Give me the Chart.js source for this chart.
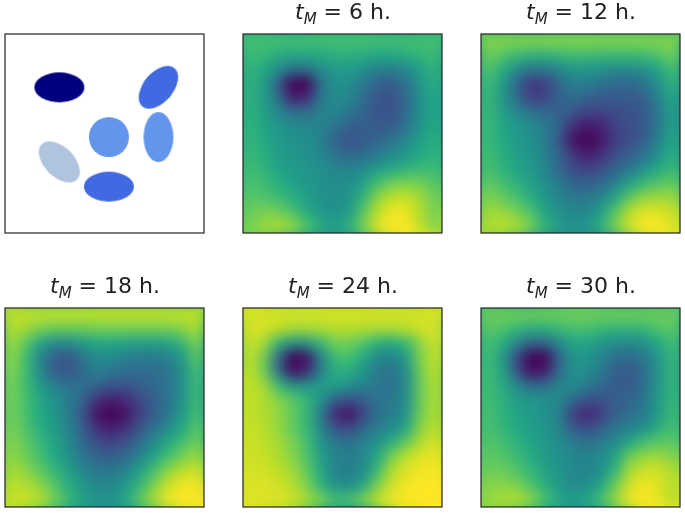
<!DOCTYPE html>
<html>
<head>
<meta charset="utf-8">
<script src="https://cdn.jsdelivr.net/npm/chart.js@4"></script>
<style>
    html, body { margin: 0; background: #fff; }
    #page { position: relative; width: 685px; height: 513px; overflow: hidden; filter: blur(0.4px); }
    canvas { position: absolute; }
    .title { position: absolute; width: 200px; text-align: center; font: 22px "DejaVu Sans"; color: #222; white-space: nowrap; }
    .title sub { font-size: 15px; font-style: italic; line-height: 0; }
</style>
</head>
<body>
<div id="page"></div>
<script>
// left panel: the cell sketch, coordinates in percent of the box
const blobX = [27.3, 77.1, 52.2, 77.1, 27.3, 52.2];
const blobY = [26.8, 26.8, 51.8, 51.8, 64.3, 76.7];
const blobMajor = [25, 25, 20, 25, 25, 25];
const blobMinor = [15, 15, 20, 15, 15, 15];
const blobAngle = [0, -50, 0, 90, 45, 0];
const blobColors = ['#000080', '#4169e1', '#6495ed', '#6495ed', '#b0c4de', '#4169e1'];

const titles = ['6', '12', '18', '24', '30'];

// heatmaps, 0-100 on the colormap, read row by row from the top
const grid6 = [
    [70, 70, 70, 70, 70, 70, 70, 70, 70, 70, 70, 70, 70, 70],
    [68, 66, 62, 59, 59, 61, 63, 63, 62, 60, 60, 62, 65, 68],
    [66, 60, 48, 38, 38, 48, 54, 54, 50, 44, 42, 47, 56, 64],
    [64, 56, 30, 0, 0, 38, 50, 49, 40, 31, 29, 38, 52, 62],
    [64, 56, 36, 8, 12, 40, 48, 45, 36, 26, 25, 34, 50, 60],
    [64, 57, 46, 36, 36, 44, 46, 40, 32, 26, 25, 35, 50, 60],
    [65, 58, 52, 48, 46, 44, 38, 30, 30, 28, 29, 38, 52, 60],
    [66, 60, 54, 51, 49, 44, 32, 25, 28, 33, 38, 46, 56, 62],
    [67, 62, 55, 52, 50, 46, 38, 33, 36, 41, 47, 54, 60, 64],
    [69, 64, 58, 54, 52, 49, 45, 43, 47, 54, 60, 64, 67, 68],
    [71, 68, 62, 57, 53, 50, 48, 49, 56, 70, 77, 80, 78, 73],
    [74, 72, 68, 62, 56, 51, 48, 51, 64, 82, 90, 91, 86, 77],
    [77, 79, 77, 71, 61, 53, 49, 54, 73, 90, 97, 97, 88, 79],
    [79, 85, 88, 84, 72, 61, 56, 63, 80, 95, 100, 100, 90, 81],
];
const grid12 = [
    [82, 82, 82, 82, 82, 82, 82, 82, 82, 82, 82, 82, 82, 82],
    [78, 73, 67, 64, 64, 66, 68, 68, 67, 67, 67, 68, 72, 78],
    [73, 62, 48, 40, 40, 46, 52, 52, 50, 47, 47, 50, 58, 70],
    [69, 55, 34, 16, 17, 33, 42, 42, 38, 34, 34, 38, 50, 64],
    [67, 54, 36, 18, 20, 31, 36, 32, 28, 28, 28, 31, 45, 60],
    [68, 56, 46, 38, 33, 32, 26, 20, 20, 23, 25, 28, 40, 57],
    [68, 60, 53, 48, 42, 32, 14, 6, 10, 20, 24, 27, 40, 58],
    [68, 60, 54, 50, 42, 28, 4, 0, 5, 18, 24, 30, 44, 60],
    [70, 62, 56, 52, 44, 32, 16, 8, 14, 24, 30, 38, 50, 62],
    [71, 64, 58, 53, 46, 34, 23, 19, 24, 32, 40, 50, 60, 67],
    [76, 70, 64, 57, 50, 40, 32, 30, 34, 44, 56, 66, 72, 76],
    [81, 76, 70, 62, 52, 45, 40, 40, 45, 58, 74, 83, 85, 85],
    [86, 84, 79, 71, 58, 49, 45, 46, 55, 73, 89, 95, 95, 91],
    [88, 90, 88, 80, 65, 55, 51, 53, 63, 81, 93, 100, 100, 95],
];
const grid18 = [
    [91, 91, 91, 91, 91, 91, 91, 91, 91, 91, 91, 91, 91, 91],
    [89, 85, 79, 76, 76, 76, 78, 78, 78, 78, 78, 78, 82, 87],
    [85, 74, 57, 47, 47, 53, 59, 59, 57, 55, 55, 57, 65, 80],
    [84, 68, 45, 30, 26, 39, 47, 47, 43, 41, 41, 43, 53, 74],
    [82, 68, 47, 28, 27, 35, 43, 39, 35, 35, 35, 39, 49, 70],
    [80, 68, 54, 44, 38, 36, 32, 26, 26, 30, 34, 38, 50, 68],
    [79, 70, 59, 50, 42, 32, 14, 8, 12, 22, 30, 38, 50, 68],
    [79, 70, 60, 52, 42, 27, 4, 0, 5, 18, 30, 40, 53, 70],
    [80, 72, 62, 54, 44, 30, 14, 8, 14, 27, 38, 48, 60, 74],
    [82, 75, 66, 58, 48, 34, 24, 20, 26, 36, 48, 60, 70, 78],
    [84, 77, 70, 60, 50, 40, 32, 30, 34, 46, 58, 70, 79, 85],
    [87, 83, 75, 66, 56, 46, 40, 40, 46, 56, 70, 83, 90, 93],
    [90, 88, 83, 73, 62, 52, 46, 46, 52, 66, 80, 92, 98, 98],
    [92, 92, 89, 79, 67, 57, 52, 52, 60, 74, 87, 98, 100, 100],
];
const grid24 = [
    [94, 94, 94, 94, 94, 94, 94, 94, 94, 94, 94, 94, 94, 94],
    [94, 93, 90, 86, 86, 87, 89, 89, 88, 87, 87, 89, 92, 94],
    [93, 86, 64, 50, 52, 66, 78, 78, 72, 62, 60, 66, 82, 93],
    [91, 78, 34, 0, 4, 44, 68, 70, 60, 46, 44, 54, 80, 91],
    [91, 78, 38, 4, 12, 44, 62, 62, 52, 40, 38, 48, 78, 90],
    [91, 86, 68, 54, 52, 56, 56, 50, 44, 40, 38, 46, 76, 88],
    [91, 88, 82, 74, 66, 50, 30, 24, 30, 38, 40, 48, 76, 88],
    [91, 88, 84, 76, 66, 42, 10, 4, 20, 38, 42, 50, 78, 88],
    [92, 89, 84, 76, 66, 46, 26, 22, 34, 42, 48, 58, 82, 90],
    [93, 90, 86, 80, 70, 52, 40, 38, 44, 52, 62, 76, 88, 94],
    [93, 91, 88, 82, 72, 56, 44, 42, 46, 60, 80, 90, 95, 97],
    [94, 93, 90, 86, 76, 60, 44, 42, 48, 68, 88, 95, 98, 99],
    [95, 95, 93, 89, 80, 64, 50, 48, 58, 80, 93, 98, 100, 100],
    [95, 95, 95, 93, 87, 79, 70, 70, 80, 91, 98, 100, 100, 100],
];
const grid30 = [
    [77, 78, 78, 78, 78, 78, 78, 78, 78, 78, 78, 78, 78, 77],
    [75, 71, 66, 62, 62, 66, 70, 70, 66, 64, 64, 66, 71, 75],
    [71, 62, 46, 32, 32, 46, 58, 58, 52, 48, 46, 50, 60, 69],
    [69, 56, 24, 0, 0, 32, 52, 52, 44, 36, 34, 40, 52, 66],
    [69, 58, 28, 4, 8, 34, 50, 48, 40, 30, 28, 36, 52, 66],
    [69, 62, 48, 36, 36, 46, 48, 42, 34, 28, 28, 36, 52, 66],
    [69, 64, 56, 52, 50, 46, 34, 24, 24, 30, 32, 40, 54, 66],
    [71, 64, 58, 54, 50, 44, 18, 10, 18, 32, 36, 42, 54, 68],
    [71, 66, 60, 56, 52, 46, 28, 24, 30, 40, 44, 50, 62, 71],
    [73, 70, 64, 58, 54, 48, 42, 38, 42, 48, 60, 70, 74, 75],
    [75, 73, 68, 62, 54, 50, 46, 44, 48, 58, 78, 84, 86, 81],
    [78, 77, 73, 66, 58, 52, 46, 44, 50, 66, 87, 93, 93, 88],
    [82, 82, 80, 72, 63, 53, 47, 49, 59, 78, 93, 98, 95, 88],
    [84, 87, 89, 83, 70, 60, 56, 60, 70, 85, 97, 100, 97, 89],
];
const grids = [grid6, grid12, grid18, grid24, grid30];

const viridisStops = ['#440154', '#482475', '#414487', '#355f8d', '#2a788e', '#21918c', '#22a884', '#44bf70', '#7ad151', '#bddf26', '#fde725'];

const panelPos = [[3, 32], [241, 32], [479, 32], [3, 306], [241, 306], [479, 306]];
const PANEL = 203;
const BLUR = 6.5;

const page = document.getElementById('page');

const hexToRgb = (hex) => [1, 3, 5].map(i => parseInt(hex.slice(i, i + 2), 16));

const viridis = (v) => {
    const p = v / 100 * (viridisStops.length - 1);
    const i = Math.min(Math.floor(p), viridisStops.length - 2);
    const a = hexToRgb(viridisStops[i]);
    const b = hexToRgb(viridisStops[i + 1]);
    const c = a.map((val, k) => Math.round(val + (b[k] - val) * (p - i)));
    return `rgb(${c[0]},${c[1]},${c[2]})`;
};

// black box round the plot area
const framePlugin = {
    id: 'frame',
    afterDraw(chart) {
        const { ctx, chartArea: a } = chart;
        ctx.save();
        ctx.strokeStyle = '#222';
        ctx.lineWidth = 1.2;
        ctx.strokeRect(a.left, a.top, a.right - a.left, a.bottom - a.top);
        ctx.restore();
    }
};

// smooths the square cells, edges are stretched first so the blur does not fade out there
const smoothPlugin = {
    id: 'smooth',
    afterDatasetsDraw(chart) {
        const { ctx, canvas, chartArea: a } = chart;
        const r = chart.currentDevicePixelRatio;
        const sx = a.left * r, sy = a.top * r, sw = (a.right - a.left) * r, sh = (a.bottom - a.top) * r;
        const pad = 30 * r;
        const tmp = document.createElement('canvas');
        tmp.width = sw + pad * 2;
        tmp.height = sh + pad * 2;
        const t = tmp.getContext('2d');
        t.drawImage(canvas, sx, sy, sw, sh, 0, 0, tmp.width, tmp.height);
        t.drawImage(canvas, sx, sy, sw, sh, pad, pad, sw, sh);
        ctx.save();
        ctx.beginPath();
        ctx.rect(a.left, a.top, a.right - a.left, a.bottom - a.top);
        ctx.clip();
        ctx.filter = `blur(${BLUR}px)`;
        ctx.drawImage(tmp, a.left - pad / r, a.top - pad / r, tmp.width / r, tmp.height / r);
        ctx.restore();
    }
};

const addPanel = (pos, datasets, min, max, plugins) => {
    const canvas = document.createElement('canvas');
    canvas.width = PANEL;
    canvas.height = PANEL;
    canvas.style.left = pos[0] + 'px';
    canvas.style.top = pos[1] + 'px';
    page.appendChild(canvas);
    return new Chart(canvas, {
        type: 'scatter',
        data: { datasets: datasets },
        plugins: plugins,
        options: {
            responsive: false,
            animation: false,
            layout: { padding: 2, autoPadding: false },
            plugins: { legend: { display: false }, tooltip: { enabled: false } },
            scales: {
                x: { display: false, min: min, max: max },
                y: { display: false, min: min, max: max, reverse: true }
            }
        }
    });
};

const ellipseSprite = (major, minor, color) => {
    const c = document.createElement('canvas');
    c.width = major * 2 + 4;
    c.height = minor * 2 + 4;
    const g = c.getContext('2d');
    g.fillStyle = color;
    g.beginPath();
    g.ellipse(major + 2, minor + 2, major, minor, 0, 0, Math.PI * 2);
    g.fill();
    return c;
};

addPanel(panelPos[0], [{
    data: blobX.map((x, i) => ({ x: x, y: blobY[i] })),
    pointStyle: blobX.map((x, i) => ellipseSprite(blobMajor[i], blobMinor[i], blobColors[i])),
    rotation: blobAngle,
    pointRadius: 5
}], 0, 100, [framePlugin]);

grids.forEach((grid, g) => {
    const points = [];
    const colors = [];
    grid.forEach((row, y) => row.forEach((v, x) => {
        points.push({ x: x, y: y });
        colors.push(viridis(v));
    }));
    const pos = panelPos[g + 1];
    addPanel(pos, [{
        data: points,
        pointStyle: 'rect',
        backgroundColor: colors,
        borderWidth: 0,
        pointRadius: (ctx) => {
            const s = ctx.chart.scales.x;
            return Math.abs(s.getPixelForValue(1) - s.getPixelForValue(0)) / 2 / Math.SQRT1_2 + 0.6;
        }
    }], -0.5, 13.5, [smoothPlugin, framePlugin]);

    const title = document.createElement('div');
    title.className = 'title';
    title.style.left = (pos[0] + 2) + 'px';
    title.style.top = (pos[1] - 33) + 'px';
    title.innerHTML = `<i>t</i><sub>M</sub> = ${titles[g]} h.`;
    page.appendChild(title);
});
</script>
</body>
</html>
